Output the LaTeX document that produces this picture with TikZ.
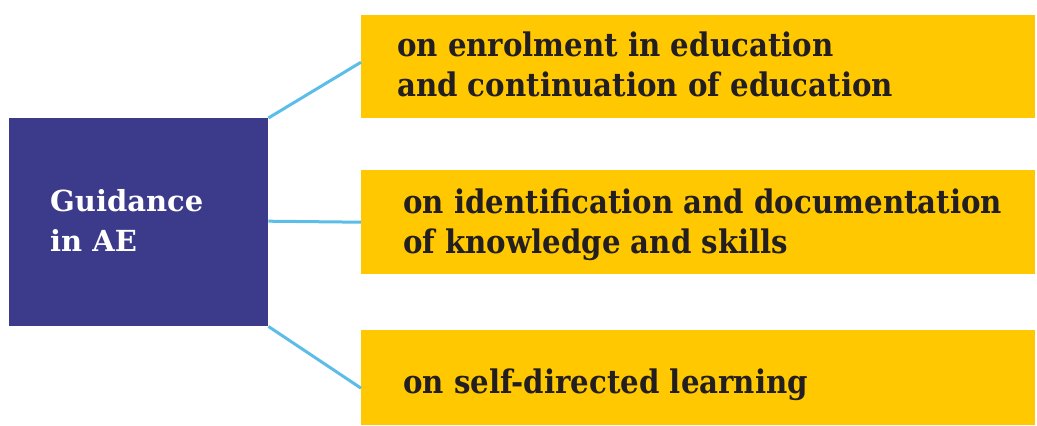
\documentclass[tikz,border=0pt]{standalone}
\usepackage{fontspec}
\setmainfont{DejaVu Serif}
\newfontfamily\condserif{DejaVu Serif Condensed}
\definecolor{navy}{HTML}{3C3A8A}
\definecolor{amber}{HTML}{FFC800}
\definecolor{sky}{HTML}{5BBDE8}
\definecolor{ink}{HTML}{231F20}
\begin{document}
\begin{tikzpicture}[x=1pt,y=-1pt,
  mainbox/.style={fill=navy,draw=none,minimum width=259pt,minimum height=208pt,inner sep=0pt},
  itembox/.style={fill=amber,draw=none,minimum width=674pt,inner sep=0pt},
  itemtext/.style={anchor=base west,font=\condserif\bfseries\fontsize{32.5}{40}\selectfont,text=ink,align=left,inner sep=0pt},
  link/.style={draw=sky,line width=3pt}]
\useasboundingbox (0,0) rectangle (1037,426);
\node[mainbox,anchor=north west] (hub) at (9,118) {};
% multi-line nodes: the base anchor sits on the last line
\node[anchor=base west,inner sep=0pt,text=white,align=left,font=\bfseries\fontsize{29}{40}\selectfont] (hubtxt) at (50,251) {Guidance\\in AE};
\node[itembox,anchor=north west,minimum height=103pt] (b1) at (361,15) {};
\node[itembox,anchor=north west,minimum height=104pt] (b2) at (361,170) {};
\node[itembox,anchor=north west,minimum height=95pt] (b3) at (361,330) {};
\node[itemtext] (t1) at (397,96) {on enrolment in education\\and continuation of education};
\node[itemtext] (t2) at (403,253) {on identification and documentation\\of knowledge and skills};
\node[itemtext] (t3) at (403,393) {on self-directed learning};
\draw[link] (hub.north east) -- ([yshift=4.5pt]b1.west);
\draw[link] ([yshift=1pt]hub.east) -- (b2.west);
\draw[link] (hub.south east) -- ([yshift=-10.5pt]b3.west);
\end{tikzpicture}
\end{document}
